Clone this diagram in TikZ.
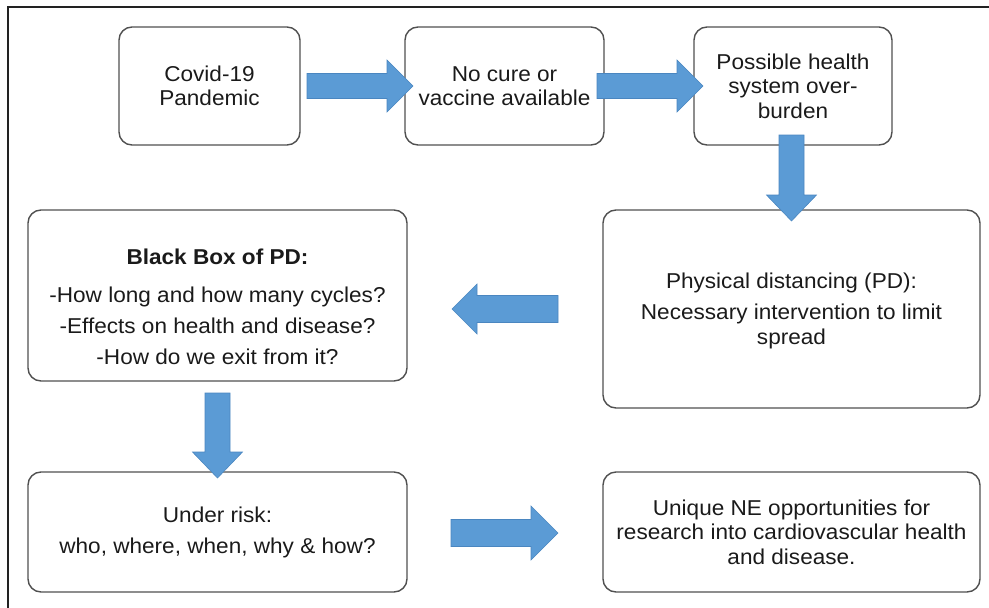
\documentclass[tikz,border=0pt]{standalone}
\usepackage{fontspec}
\setmainfont{Liberation Sans}[FakeStretch=1.05]
\begin{document}
\begin{tikzpicture}[x=1pt,y=-1pt,
  box/.style={draw=boxline, line width=1.4pt, rounded corners=13pt, inner sep=0pt},
  txt/.style={align=center, font=\fontsize{21.5}{24.5}\selectfont, text=textcol, inner sep=0pt},
  blockarrow/.style={fill=arrowfill, draw=arrowedge, line width=0.6pt, line join=miter}]
\definecolor{boxline}{HTML}{505050}
\definecolor{arrowfill}{HTML}{5B9BD5}
\definecolor{arrowedge}{HTML}{4A86C0}
\definecolor{frameline}{HTML}{222222}
\definecolor{textcol}{HTML}{1A1A1A}
\useasboundingbox (0,0) rectangle (989,608);
% outer frame (top and left edges)
\coordinate (ftl) at (8,7);
\coordinate (ftr) at (989,7);
\coordinate (fbl) at (8,608);
\draw[frameline, line width=2.2pt] (ftr) -- (ftl) -- (fbl);
% boxes
\node[box, minimum width=181pt, minimum height=118pt] (b1) at (209.5,86) {};
\node[box, minimum width=199pt, minimum height=118pt] (b2) at (504.5,86) {};
\node[box, minimum width=198pt, minimum height=118pt] (b3) at (793,86) {};
\node[box, minimum width=377pt, minimum height=198pt] (pd) at (791.5,309) {};
\node[box, minimum width=379pt, minimum height=171pt] (bb) at (217.5,295.5) {};
\node[box, minimum width=379pt, minimum height=120pt] (ur) at (217.5,532) {};
\node[box, minimum width=377pt, minimum height=120pt] (ne) at (791.5,532) {};
% texts
\node[txt] (t1) at (b1) {Covid-19\\Pandemic};
\node[txt] (t2) at (b2) {No cure or\\vaccine available};
\node[txt] (t3) at (b3) {Possible health\\system over-\\burden};
\node[txt] (tpd) at (791.5,311) {Physical distancing (PD):\\[6.5pt]Necessary intervention to limit\\spread};
\node[txt] (tbb) at (217.5,307) {\textbf{Black Box of PD:}\\[13.5pt]-How long and how many cycles?\\[6.5pt]-Effects on health and disease?\\[6.5pt]-How do we exit from it?};
\node[txt] (tur) at (ur) {Under risk:\\[6.5pt]who, where, when, why \& how?};
\node[txt] (tne) at (ne) {Unique NE opportunities for\\research into cardiovascular health\\and disease.};
% block arrows
\begin{scope}[shift={(307,86)}]
\draw[blockarrow] (0,-12.5) -- (80,-12.5) -- (80,-26) -- (106,0) -- (80,26) -- (80,12.5) -- (0,12.5) -- cycle;
\end{scope}
\begin{scope}[shift={(597,86)}]
\draw[blockarrow] (0,-12.5) -- (80,-12.5) -- (80,-26) -- (106,0) -- (80,26) -- (80,12.5) -- (0,12.5) -- cycle;
\end{scope}
% down arrow right
\begin{scope}[shift={(791.5,135)}]
\draw[blockarrow] (-12.5,0) -- (-12.5,60) -- (-25,60) -- (0,86) -- (25,60) -- (12.5,60) -- (12.5,0) -- cycle;
\end{scope}
% left arrow
\begin{scope}[shift={(558,309)}]
\draw[blockarrow] (0,-13.5) -- (-81,-13.5) -- (-81,-25) -- (-106,0) -- (-81,25) -- (-81,13.5) -- (0,13.5) -- cycle;
\end{scope}
% down arrow left
\begin{scope}[shift={(217.5,393)}]
\draw[blockarrow] (-12.5,0) -- (-12.5,59) -- (-25,59) -- (0,85) -- (25,59) -- (12.5,59) -- (12.5,0) -- cycle;
\end{scope}
% bottom right arrow
\begin{scope}[shift={(451,533)}]
\draw[blockarrow] (0,-13.5) -- (80,-13.5) -- (80,-27) -- (107,0) -- (80,27) -- (80,13.5) -- (0,13.5) -- cycle;
\end{scope}
\end{tikzpicture}
\end{document}
